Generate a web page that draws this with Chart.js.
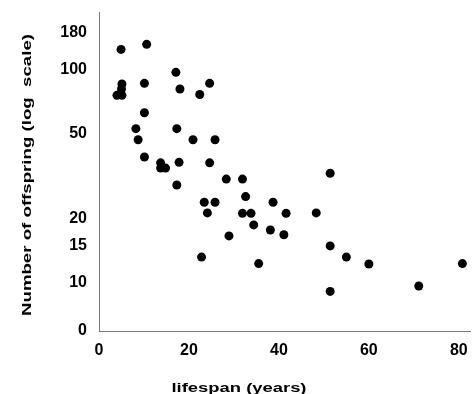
<!DOCTYPE html>
<html>
<head>
<meta charset="utf-8">
<script src="https://cdn.jsdelivr.net/npm/chart.js@4/dist/chart.umd.min.js"></script>
<style>
  html, body { margin: 0; padding: 0; background: #ffffff; }
  #wrap { width: 475px; height: 394px; }
</style>
</head>
<body>
<div id="wrap"><canvas id="lifeChart" width="475" height="394"></canvas></div>
<script>
// =============== DATA ===============
const lifespan = [4.9, 10.6, 17.1, 5.1, 5.0, 4.0, 5.1, 10.1, 24.6, 18.0, 22.4, 10.1,
                  8.2, 17.3, 8.7, 20.9, 25.8, 10.1, 13.7, 13.7, 14.8, 17.8, 24.6, 17.3,
                  28.3, 31.9, 51.4, 32.6, 23.4, 25.8, 38.7, 24.1, 31.9, 33.8, 41.6, 48.3,
                  34.4, 28.9, 38.1, 41.1, 51.4, 22.8, 55.0, 35.5, 60.0, 80.8, 51.4, 71.1];
const offspring = [125, 132, 97.5, 86, 81.4, 76, 76, 86.6, 86.6, 81.4, 76.7, 63,
                   53, 53, 47, 47, 47, 39, 36.6, 34.6, 34.6, 36.8, 36.6, 28.8,
                   30.7, 30.7, 32.7, 25.4, 23.9, 23.9, 23.9, 21.3, 21.2, 21.2, 21.2, 21.3,
                   18.7, 16.6, 17.7, 16.8, 14.9, 13.2, 13.2, 12.3, 12.25, 12.3, 9.1, 9.65];

const xTickValues = [0, 20, 40, 60, 80];
const yTickValues = [5.93, 10, 15, 20, 50, 100, 150];
const yTickLabels = ['0', '10', '15', '20', '50', '100', '180'];

const xTitle = 'lifespan (years)';
const yTitle = 'Number of offspring (log  scale)';

// =============== AXIS TITLES (wide bold lettering) ===============
const axisTitlePlugin = {
    id: 'axisTitles',
    afterDraw(chart) {
        const ctx = chart.ctx;
        ctx.save();
        ctx.fillStyle = '#000';
        ctx.font = 'bold 12px "Liberation Sans", Arial, sans-serif';
        ctx.textAlign = 'center';
        ctx.textBaseline = 'alphabetic';

        // x title
        let w = ctx.measureText(xTitle).width;
        ctx.save();
        ctx.translate(239, 392);
        ctx.scale(135 / w, 1);
        ctx.fillText(xTitle, 0, 0);
        ctx.restore();

        // y title
        w = ctx.measureText(yTitle).width;
        ctx.save();
        ctx.translate(30.5, 175);
        ctx.rotate(-Math.PI / 2);
        ctx.scale(282 / w, 1);
        ctx.fillText(yTitle, 0, 0);
        ctx.restore();

        ctx.restore();
    }
};

// =============== CHART ===============
const tickFont = { family: "'Liberation Sans', Arial, sans-serif", size: 16, weight: 'bold' };

new Chart(document.getElementById('lifeChart').getContext('2d'), {
    type: 'scatter',
    data: {
        datasets: [{
            data: lifespan.map((x, i) => ({ x: x, y: offspring[i] })),
            backgroundColor: '#000',
            borderWidth: 0,
            pointRadius: 4.5,
            pointHoverRadius: 4.5
        }]
    },
    options: {
        responsive: false,
        animation: false,
        layout: { padding: { top: 12, right: 1, left: 0, bottom: 0 } },
        plugins: {
            legend: { display: false },
            tooltip: { enabled: false }
        },
        scales: {
            x: {
                type: 'linear',
                min: 0,
                max: 82.6,
                afterBuildTicks: scale => { scale.ticks = xTickValues.map(v => ({ value: v })); },
                afterFit: scale => {
                    scale.height = 63;
                    scale.paddingLeft = 0;
                    scale.paddingRight = 0;
                },
                grid: { display: false, drawTicks: false },
                border: { display: true, color: '#777', width: 1, dash: [1, 1] },
                ticks: { color: '#000', font: tickFont, padding: 10, maxRotation: 0 }
            },
            y: {
                type: 'logarithmic',
                min: 5.93,
                max: 187.4,
                afterBuildTicks: scale => { scale.ticks = yTickValues.map(v => ({ value: v })); },
                afterFit: scale => {
                    scale.width = 99;
                    scale.paddingTop = 0;
                    scale.paddingBottom = 0;
                },
                grid: { display: false, drawTicks: false },
                border: { display: true, color: '#777', width: 1, dash: [1, 1] },
                ticks: {
                    color: '#000',
                    font: tickFont,
                    padding: 12,
                    autoSkip: false,
                    callback: (value) => {
                        const i = yTickValues.indexOf(value);
                        return i >= 0 ? yTickLabels[i] : '';
                    }
                }
            }
        }
    },
    plugins: [axisTitlePlugin]
});
</script>
</body>
</html>
